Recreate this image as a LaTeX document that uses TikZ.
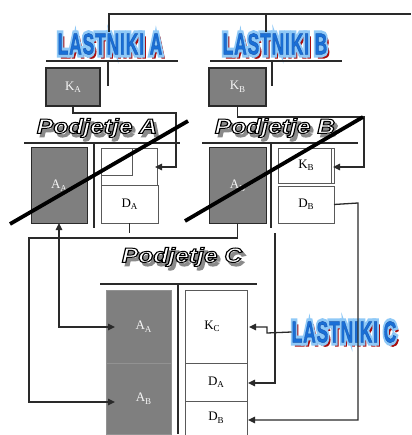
\documentclass[tikz,border=0pt]{standalone}
\usepackage{fontspec}
\setmainfont{Liberation Serif}
\newfontfamily\cofam{Liberation Sans}
\newfontfamily\ownfam[LetterSpace=5]{Liberation Sans}
\usetikzlibrary{calc,arrows.meta}
\definecolor{boxgray}{HTML}{7F7F7F}
\definecolor{linegray}{HTML}{2A2A2A}
\definecolor{ownerblue}{HTML}{1A6FD6}
\definecolor{ownerglow}{HTML}{8EC9F7}
\definecolor{ownerred}{HTML}{A80E0E}
\definecolor{shadowgray}{HTML}{8A8A8A}
\newcommand{\ksub}[2]{#1\raisebox{-2.5pt}{\fontsize{9}{9}\selectfont #2}}
% stroke+fill text render mode (xdvipdfmx)
\newcommand{\strokedtext}[3]{\special{pdf:literal direct 2 Tr #1 w #2 RG}#3\special{pdf:literal direct 0 Tr}}
\newcommand{\ownertitle}[3]{%
  \node[ownerfont,text=ownerred] at ($(#2)+(2.5,3.5)$) {\scalebox{0.58}[1]{\strokedtext{1.5}{0.66 0.05 0.05}{#3}}};
  \node[ownerfont,text=ownerglow] at (#2) {\scalebox{0.58}[1]{\strokedtext{6.5}{0.56 0.79 0.97}{#3}}};
  \node[ownerfont,text=ownerblue] (#1) at (#2) {\scalebox{0.58}[1]{\strokedtext{0.5}{0.1 0.35 0.7}{#3}}};
}
\newcommand{\companytitle}[3]{%
  \node[cofont,text=shadowgray] at ($(#2)+(3,3.5)$) {\scalebox{1.2}[1]{\strokedtext{1.2}{0.54 0.54 0.54}{#3}}};
  \node[cofont,text=white] (#1) at (#2) {\scalebox{1.2}[1]{\strokedtext{1.0}{0 0 0}{#3}}};
}
\tikzset{
  ownerfont/.style={font=\ownfam\bfseries\fontsize{30}{30}\selectfont,inner sep=0pt},
  cofont/.style={font=\cofam\bfseries\itshape\fontsize{20.5}{20.5}\selectfont,inner sep=0pt},
  gbox/.style={draw=linegray,line width=1.3pt,fill=boxgray,text=white!92!gray,
    anchor=north west,inner sep=0pt,outer sep=0pt,font=\fontsize{13}{13}\selectfont},
  gcol/.style={draw=boxgray!85!white,line width=0.6pt,fill=boxgray,text=white!92!gray,
    anchor=north west,inner sep=0pt,outer sep=0pt,font=\fontsize{13}{13}\selectfont},
  wbox/.style={draw=black!65,line width=0.8pt,fill=white,text=black,
    anchor=north west,inner sep=0pt,outer sep=0pt,font=\fontsize{13}{13}\selectfont},
  rule/.style={draw=linegray,line width=1.4pt},
  conn/.style={draw=linegray,line width=1.3pt},
  arr/.style={conn,-{Triangle[length=7pt,width=6.5pt]}},
  cross/.style={draw=black,line width=3.8pt},
}
\begin{document}
\begin{tikzpicture}[x=1pt,y=-1pt]
\useasboundingbox (0,0) rectangle (411,435);
\fill[white] (0,0) rectangle (411,435);
% ---- owners A, B
\coordinate (topR) at (411,14);
\ownertitle{lasta}{110,44}{LASTNIKI A}
\ownertitle{lastb}{275,44}{LASTNIKI B}
\draw[conn] (109,32) coordinate (la) |- (topR);
\draw[conn] (266,32) coordinate (lb) -- (266,14);
\draw[rule] (46,61) coordinate (ua1) -- (178,61) coordinate (ua2);
\draw[rule] (210,61) coordinate (ub1) -- (342,61) coordinate (ub2);
\draw[conn] (108,61) coordinate (sa1) -- (108,86) coordinate (sa2);
\draw[conn] (272,61) coordinate (sb1) -- (272,86) coordinate (sb2);
\node[gbox,minimum width=54pt,minimum height=38pt] (ka) at (46,68) {\ksub{K}{A}};
\node[gbox,minimum width=57pt,minimum height=38pt] (kb) at (209,68) {\ksub{K}{B}};
% ---- company A
\companytitle{pa}{97,128}{Podjetje A}
\draw[rule] (24,143) coordinate (pa1) -- (180,143) coordinate (pa2);
\draw[rule] (94,143) coordinate (spa1) -- (94,228) coordinate (spa2);
\node[gbox,line width=1pt,minimum width=56pt,minimum height=75pt] (aaA) at (31,148) {\ksub{A}{A}};
\node[wbox,minimum width=56pt,minimum height=37pt] (kaA) at (101,148) {};
\draw[draw=black!65,line width=0.8pt] (kaA.north west) rectangle (132,175);
\node[wbox,minimum width=57pt,minimum height=38pt] (daA) at (101,185) {\ksub{D}{A}};
% ---- company B
\companytitle{pb}{275,128}{Podjetje B}
\draw[rule] (202,143) coordinate (pb1) -- (358,143) coordinate (pb2);
\draw[rule] (271,143) coordinate (spb1) -- (271,228) coordinate (spb2);
\node[gbox,line width=1pt,minimum width=57pt,minimum height=75pt] (abB) at (209,148) {\ksub{A}{B}};
\node[wbox,minimum width=56pt,minimum height=35pt] (kbB) at (278,148) {\ksub{K}{B}};
\draw[draw=black!65,line width=0.8pt] (331,148) -- (331,183);
\node[wbox,minimum width=56pt,minimum height=37pt] (dbB) at (278,186) {\ksub{D}{B}};
% ---- connectors from owner boxes
\coordinate (tipKA) at (155,167);
\coordinate (tipKB) at (333,167);
\draw[arr] (ka.south) -- ++(0,7) -| (176,167) -- (tipKA);
\draw[arr] (kb.south) -- ++(0,11) -| (364,167) -- (tipKB);
% ---- crosses
\draw[cross] (10,224) coordinate (xa1) -- (188,121) coordinate (xa2);
\draw[cross] (185,221) coordinate (xb1) -- (363,117) coordinate (xb2);
% ---- company C
\companytitle{pc}{182,257}{Podjetje C}
\draw[rule] (100,284) coordinate (pc1) -- (257,284) coordinate (pc2);
\draw[draw=linegray,line width=2pt] (178,284) coordinate (spc1) -- (178,434) coordinate (spc2);
\node[gcol,minimum width=65pt,minimum height=73pt] (aaC) at (106,290) {\hspace*{10pt}\ksub{A}{A}};
\node[gcol,minimum width=65pt,minimum height=71pt] (abC) at (106,363) {\hspace*{10pt}\ksub{A}{B}};
\node[wbox,minimum width=62pt,minimum height=73pt] (kcC) at (185,290) {\ksub{K}{C}\hspace*{8pt}};
\node[wbox,minimum width=62pt,minimum height=38pt] (daC) at (185,363) {\ksub{D}{A}};
\node[wbox,minimum width=62pt,minimum height=34pt] (dbC) at (185,401) {\ksub{D}{B}};
\ownertitle{lastc}{344,332}{LASTNIKI C}
% ---- connectors into C
\coordinate (tipAA) at (115,327);
\coordinate (tipAB) at (115,402);
\coordinate (tipKC) at (249,327);
\coordinate (tipDA) at (248,383);
\coordinate (tipDB) at (248,420);
\draw[conn] (daA.south) -- ++(0,10);
\draw[arr] (275,233) coordinate (dstart) |- (tipDA);
\draw[arr] (dbB.east) -- (358,203) |- (tipDB);
\draw[arr] (abB.south) |- (29,238) |- (tipAB);
\draw[arr,{Triangle[length=7pt,width=6.5pt]}-{Triangle[length=7pt,width=6.5pt]}] (aaA.south) |- (tipAA);
\draw[arr] (lastc.west) -- (267,333) -- (267,327) -- (tipKC);
\end{tikzpicture}
\end{document}
